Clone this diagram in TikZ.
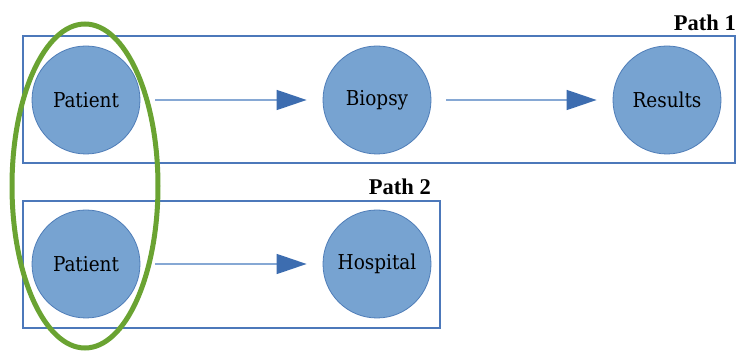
\documentclass[tikz,border=0pt]{standalone}
\usepackage{fontspec}
\setmainfont{Liberation Serif}
\newfontfamily\slabfont{DejaVu Serif Condensed}
\usetikzlibrary{arrows.meta}
\definecolor{nodefill}{HTML}{77A3D1}
\definecolor{nodeedge}{HTML}{4F7DB8}
\definecolor{framecol}{HTML}{4C78BA}
\definecolor{linkcol}{HTML}{86A8D4}
\definecolor{tipcol}{HTML}{3D6DB0}
\definecolor{groupcol}{HTML}{6AA332}
\tikzset{
  stage/.style={circle, draw=nodeedge, line width=0.8pt, fill=nodefill,
    minimum size=108pt, inner sep=0pt, font=\slabfont\fontsize{20.5}{22}\selectfont},
  pathframe/.style={draw=framecol, line width=1.2pt},
  pathlabel/.style={font=\bfseries\fontsize{22.5}{24}\selectfont, anchor=base east, inner sep=0pt},
  link/.style={draw=linkcol, line width=1.6pt,
    -{Triangle[length=30pt, width=20pt, color=tipcol]}},
  group/.style={draw=groupcol, line width=5pt}
}
\begin{document}
\begin{tikzpicture}[x=1pt, y=-1pt]
  \useasboundingbox (0,0) rectangle (740,352);
  % path frames
  \draw[pathframe] (23,36) rectangle (735,163);
  \draw[pathframe] (23,201) rectangle (440,328);
  \node[pathlabel] (lab1) at (736,31) {Path 1};
  \node[pathlabel] (lab2) at (431,195) {Path 2};
  % stages
  \node[stage] (p1) at (86,100) {Patient};
  \node[stage] (bio) at (377,100) {Biopsy};
  \node[stage] (res) at (667,100) {Results};
  \node[stage] (p2) at (86,264) {Patient};
  \node[stage] (hos) at (377,264) {Hospital};
  % links
  \draw[link] ([xshift=15pt]p1.east) -- ([xshift=-16pt]bio.west);
  \draw[link] ([xshift=15pt]bio.east) -- ([xshift=-16pt]res.west);
  \draw[link] ([xshift=15pt]p2.east) -- ([xshift=-16pt]hos.west);
  % shared patient
  \draw[group] (85,186) ellipse [x radius=73pt, y radius=162pt];
\end{tikzpicture}
\end{document}
